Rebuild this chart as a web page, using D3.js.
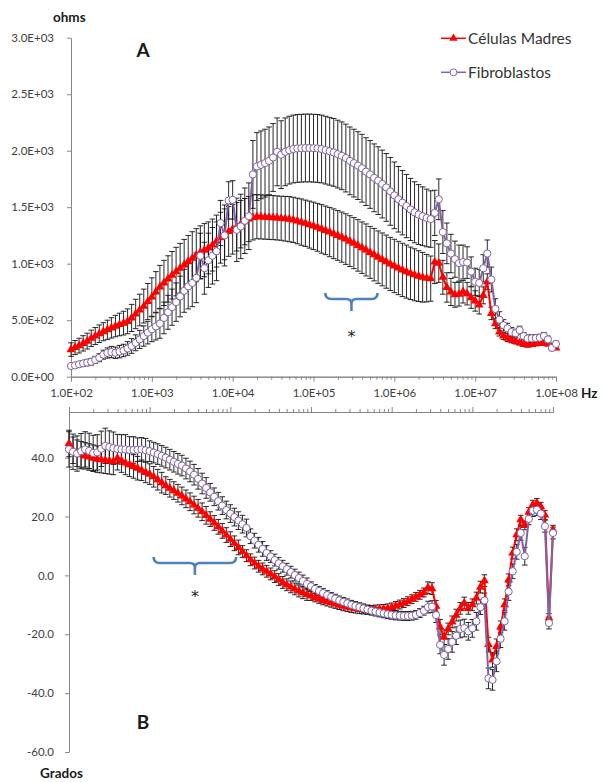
<!DOCTYPE html>
<html>
<head>
<meta charset="utf-8">
<script src="https://cdn.jsdelivr.net/npm/d3@7"></script>
<style>
  body { margin: 0; background: #fff; }
  text { font-family: Lato, "Open Sans", sans-serif; }
</style>
</head>
<body>
<script>
var width = 603, height = 782;

// sweep grid of the analyser: 20 points per decade, 1e2 .. 1e8 Hz
var sweepStart = 2, sweepStep = 0.05, sweepCount = 121;
var freqs = d3.range(sweepCount).map(function (i) { return Math.pow(10, sweepStart + i * sweepStep); });

var seriesNames = ['Células Madres', 'Fibroblastos'];

// panel A: impedance modulus (ohms)
var madresOhms = [
  240,258,275,295,315,340,360,380,398,415,
  432,448,462,474,490,520,555,590,625,665,
  705,750,795,830,865,898,930,960,990,1020,
  1048,1075,1100,1120,1140,1165,1200,1230,1260,1285,
  1305,1327,1350,1372,1395,1410,1416,1414,1412,1410,
  1408,1405,1402,1398,1394,1388,1378,1368,1358,1346,
  1335,1322,1308,1295,1280,1265,1250,1235,1218,1200,
  1182,1162,1142,1122,1100,1080,1058,1038,1018,998,
  980,962,945,930,915,902,890,880,872,868,
  1015,1005,880,790,750,725,730,752,735,700,
  670,635,720,840,560,470,395,360,340,325,
  312,300,288,280,285,292,296,300,290,265,
  255];
var madresOhmsErr = [
  60,62,65,68,70,72,75,78,80,85,
  90,95,100,105,110,120,130,140,150,160,
  170,180,190,200,205,210,215,220,225,230,
  235,235,235,235,230,230,230,225,225,220,
  220,215,210,205,200,200,195,195,195,195,
  195,195,195,198,200,200,202,205,205,208,
  210,212,215,215,218,220,220,222,224,225,
  226,228,228,230,230,232,232,234,235,235,
  236,236,236,235,232,230,225,220,210,200,
  190,170,150,130,120,110,105,100,100,95,
  90,80,75,70,55,45,35,30,28,25,
  22,20,20,18,18,18,18,18,18,15,
  15];
var fibroOhms = [
  95,100,110,118,125,132,148,168,195,210,
  218,212,222,232,250,272,300,330,360,390,
  420,445,470,520,570,615,660,710,760,800,
  830,875,1070,960,1030,1070,1110,1360,1250,1560,
  1565,1300,1330,1380,1420,1790,1860,1875,1890,1910,
  1940,1990,1965,1990,2005,2015,2020,2022,2024,2024,
  2022,2020,2015,2005,1995,1985,1970,1955,1935,1910,
  1890,1868,1845,1815,1790,1760,1735,1705,1675,1640,
  1605,1570,1540,1510,1480,1455,1435,1420,1405,1395,
  1450,1570,1280,1180,1090,1040,1005,1015,1010,930,
  840,830,960,1090,860,600,505,455,428,395,
  385,412,360,338,340,342,345,360,330,255,
  290];
var fibroOhmsErr = [
  20,20,22,25,28,30,32,35,40,45,
  50,50,55,55,60,65,70,80,90,100,
  110,120,130,140,150,160,170,180,190,200,
  210,220,200,230,240,250,260,200,270,165,
  170,280,285,290,295,300,300,300,300,300,
  300,300,300,300,300,300,300,300,300,300,
  300,300,300,300,300,300,300,300,300,300,
  300,300,300,300,300,300,300,300,300,300,
  295,290,285,280,275,270,265,260,255,250,
  200,180,190,180,170,160,160,150,140,130,
  120,120,120,120,110,90,70,50,45,40,
  35,35,30,30,30,30,30,30,30,25,
  25];

// panel B: phase (degrees)
var madresDeg = [
  44.8,42.5,41.5,41.0,40.6,40.2,39.8,39.5,39.3,39.1,
  38.9,38.7,39.8,39.0,38.2,37.6,37.0,36.4,35.7,35.0,
  34.4,33.5,32.5,31.5,30.5,29.6,28.8,27.9,27.0,26.0,
  25.0,23.9,22.8,21.6,20.4,19.1,17.8,16.5,15.1,13.7,
  12.3,10.9,9.5,8.1,6.7,5.3,4.2,3.1,2.2,1.4,
  0.5,-0.4,-1.4,-2.4,-3.2,-3.9,-4.6,-5.3,-5.9,-6.5,
  -7.0,-7.5,-8.0,-8.5,-8.9,-9.3,-9.7,-10.1,-10.5,-10.8,
  -11.1,-11.3,-11.5,-11.6,-11.7,-11.7,-11.6,-11.5,-11.4,-11.2,
  -10.9,-10.4,-9.9,-9.4,-8.8,-8.1,-7.3,-6.6,-5.8,-4.2,
  -4.5,-10.5,-17.5,-21.0,-18.2,-15.8,-13.5,-11.2,-9.4,-11.2,
  -10.0,-7.7,-4.0,-1.8,-23.5,-28.7,-24.1,-17.5,-10.0,-1.5,
  7.6,13.8,18.9,17.0,21.5,24.0,24.6,23.3,20.5,-14.5,
  15.5];
var madresDegErr = [
  4.5,4.5,4.5,4.5,4.5,4.5,4.5,4.5,4.5,4.5,
  4.5,4.5,4,4,4,4,4,4,3.5,3.5,
  3.5,3.5,3.5,3.5,3,3,3,3,3,3,
  3,3,3,3,3,2.5,2.5,2.5,2.5,2.5,
  2.5,2.5,2.5,2,2,2,2,2,2,2,
  2,2,2,2,2,2,2,2,2,2,
  1.5,1.5,1.5,1.5,1.5,1.5,1.5,1.5,1.5,1.5,
  1.5,1.5,1.5,1.5,1.5,1.5,1.5,1.5,1.5,1.5,
  1.5,1.5,1.5,1.5,1.5,1.5,1.5,1.5,1.5,2,
  2,2,2.5,2.5,2,2,2,2,2,2,
  2,2,2,2,2.5,2.5,2.5,2,2,2,
  2,2,1.5,1.5,1.5,1.5,1.5,1.5,1.5,1.5,
  1.5];
var fibroDeg = [
  42.8,42.0,41.4,42.2,42.8,42.3,41.6,41.8,43.0,44.0,
  43.6,43.2,42.9,42.8,42.8,42.6,42.6,42.7,42.8,42.5,
  42.2,41.7,41.2,40.6,40.0,39.3,38.6,37.9,37.3,36.3,
  35.3,34.2,32.8,31.2,29.7,28.2,26.7,25.2,23.7,22.2,
  21.0,19.8,18.6,17.4,16.1,13.3,11.8,10.4,9.0,7.6,
  6.4,5.2,4.1,3.1,2.1,1.1,0.1,-0.9,-1.9,-2.9,
  -3.7,-4.6,-5.3,-6.0,-6.7,-7.3,-7.9,-8.5,-9.0,-9.5,
  -10.0,-10.4,-10.8,-11.2,-11.6,-12.0,-12.3,-12.6,-12.9,-13.2,
  -13.4,-13.6,-13.7,-13.8,-13.8,-13.7,-13.4,-12.8,-12.0,-10.8,
  -10.6,-13.5,-23.6,-27.0,-25.0,-22.6,-20.5,-18.2,-17.9,-19.0,
  -18.0,-15.6,-10.8,-8.5,-35.0,-35.5,-29.2,-21.5,-15.6,-5.5,
  1.4,8.0,14.4,6.5,19.2,22.0,22.3,21.0,16.7,-16.2,
  14.4];
var fibroDegErr = [
  6,6,6,6,6,6,6,6,6,6,
  5.5,5.5,5,5,5,4.5,4.5,4,4,4,
  3.5,3.5,3.5,3.5,3.5,3.5,3.5,3.5,3.5,3.5,
  3.5,3.5,3.5,3.5,3.5,3,3,3,3,3,
  3,3,3,3,3,2.5,2.5,2.5,2.5,2.5,
  2,2,2,2,2,2,2,2,2,2,
  1.5,1.5,1.5,1.5,1.5,1.5,1.5,1.5,1.5,1.5,
  1.5,1.5,1.5,1.5,1.5,1.5,1.5,1.5,1.5,1.5,
  1.5,1.5,1.5,1.5,1.5,1.5,1.5,1.5,1.5,2,
  2,2.5,3,3.5,3.5,3.5,3,3,3,3,
  3,3,2.5,2.5,3.5,3.5,3.5,3,3,3,
  2.5,2.5,2.5,3,2,2,2,2,2,2,
  2];

var freqTicks = [1e2, 1e3, 1e4, 1e5, 1e6, 1e7, 1e8];
var ohmsTicks = [0, 500, 1000, 1500, 2000, 2500, 3000];
var degTicks = [-60, -40, -20, 0, 20, 40];

// frequency spans of the significance brackets
var bracketA = [1.4e5, 6.2e5];
var bracketB = [1.12e3, 1.18e4];

var red = '#ff0000', purple = '#8064a2', axisGray = '#868686', bracketBlue = '#4f81bd';

var svg = d3.select('body').append('svg')
    .attr('width', width)
    .attr('height', height);

var xA = d3.scaleLog().domain([1e2, 1e8]).range([71, 556]);
var yA = d3.scaleLinear().domain([0, 3000]).range([376.7, 37.7]);
var xB = d3.scaleLog().domain([1e2, 1e8]).range([69, 553]);
var yB = d3.scaleLinear().domain([-60, 55.5]).range([752, 412]);

var minorTicks = xA.ticks().filter(function (d) {
  return freqTicks.indexOf(d) < 0;
});

var sci = function (v) {
  if (v === 0) return '0.0E+00';
  var e = Math.floor(Math.log10(Math.abs(v)) + 1e-9);
  var m = v / Math.pow(10, e);
  return m.toFixed(1) + 'E+' + (e < 10 ? '0' + e : e);
};

var styleAxis = function (g) {
  g.attr('font-size', 11.5);
  g.select('.domain').attr('stroke', axisGray);
  g.selectAll('.tick line').attr('stroke', axisGray);
  g.selectAll('.tick text').attr('fill', '#404040');
};

// ---- axes, panel A
svg.append('g')
    .attr('transform', 'translate(0,' + yA(0) + ')')
    .call(d3.axisBottom(xA).tickValues(minorTicks).tickSize(3).tickFormat('').tickSizeOuter(0))
    .call(styleAxis);
svg.append('g')
    .attr('transform', 'translate(0,' + yA(0) + ')')
    .call(d3.axisBottom(xA).tickValues(freqTicks).tickSize(5).tickPadding(7).tickFormat(sci).tickSizeOuter(0))
    .call(styleAxis);
svg.append('g')
    .attr('transform', 'translate(' + xA(1e2) + ',0)')
    .call(d3.axisLeft(yA).tickValues(ohmsTicks).tickSize(4).tickPadding(13).tickFormat(sci).tickSizeOuter(0))
    .call(styleAxis);

// ---- axes, panel B (x axis sits at the top)
svg.append('g')
    .attr('transform', 'translate(0,' + yB.range()[1] + ')')
    .call(d3.axisTop(xB).tickValues(minorTicks).tickSize(3).tickFormat('').tickSizeOuter(0))
    .call(styleAxis);
svg.append('g')
    .attr('transform', 'translate(0,' + yB.range()[1] + ')')
    .call(d3.axisTop(xB).tickValues(freqTicks).tickSize(5).tickFormat('').tickSizeOuter(0))
    .call(styleAxis);
svg.append('g')
    .attr('transform', 'translate(' + xB(1e2) + ',0)')
    .call(d3.axisLeft(yB).tickValues(degTicks).tickSize(4).tickPadding(11)
      .tickFormat(function (v) { return v.toFixed(1); }).tickSizeOuter(0))
    .call(styleAxis);

// ---- series
var errorBars = function (x, y, vals, errs) {
  var g = svg.append('g').attr('stroke', '#111').attr('stroke-width', 0.9);
  var pts = freqs.map(function (f, i) { return {f: f, v: vals[i], e: errs[i]}; });
  g.selectAll('.eb').data(pts).enter().append('path')
      .attr('d', function (d) {
        var cx = x(d.f), lo = y(d.v - d.e), hi = y(d.v + d.e);
        return 'M' + cx + ',' + lo + 'V' + hi +
               'M' + (cx - 2.8) + ',' + hi + 'H' + (cx + 2.8) +
               'M' + (cx - 2.8) + ',' + lo + 'H' + (cx + 2.8);
      })
      .attr('fill', 'none');
};

var series = function (x, y, vals, color, marker) {
  var pts = freqs.map(function (f, i) { return {f: f, v: vals[i]}; });
  var line = d3.line().x(function (d) { return x(d.f); }).y(function (d) { return y(d.v); });
  svg.append('path').datum(pts)
      .attr('d', line)
      .attr('fill', 'none')
      .attr('stroke', color)
      .attr('stroke-width', 2);
  var g = svg.append('g');
  if (marker === 'triangle') {
    g.selectAll('path').data(pts).enter().append('path')
        .attr('d', d3.symbol(d3.symbolTriangle, 34))
        .attr('transform', function (d) { return 'translate(' + x(d.f) + ',' + y(d.v) + ')'; })
        .attr('fill', color);
  } else {
    g.selectAll('circle').data(pts).enter().append('circle')
        .attr('cx', function (d) { return x(d.f); })
        .attr('cy', function (d) { return y(d.v); })
        .attr('r', 3.6)
        .attr('fill', '#fff')
        .attr('stroke', color)
        .attr('stroke-width', 1);
  }
};

errorBars(xA, yA, madresOhms, madresOhmsErr);
errorBars(xA, yA, fibroOhms, fibroOhmsErr);
series(xA, yA, madresOhms, red, 'triangle');
series(xA, yA, fibroOhms, purple, 'circle');

errorBars(xB, yB, madresDeg, madresDegErr);
errorBars(xB, yB, fibroDeg, fibroDegErr);
series(xB, yB, madresDeg, red, 'triangle');
series(xB, yB, fibroDeg, purple, 'circle');

// ---- significance brackets
var brace = function (x0, x1, yTop, asteriskY) {
  var mid = (x0 + x1) / 2, yH = yTop + 6;
  svg.append('path')
      .attr('d', 'M' + x0 + ',' + yTop + 'Q' + x0 + ',' + yH + ' ' + (x0 + 6) + ',' + yH +
                 'H' + (mid - 5) + 'Q' + mid + ',' + yH + ' ' + mid + ',' + (yH + 5) + 'V' + (yH + 12) +
                 'M' + mid + ',' + (yH + 5) + 'Q' + mid + ',' + yH + ' ' + (mid + 5) + ',' + yH +
                 'H' + (x1 - 6) + 'Q' + x1 + ',' + yH + ' ' + x1 + ',' + yTop)
      .attr('fill', 'none')
      .attr('stroke', bracketBlue)
      .attr('stroke-width', 2.6);
  svg.append('text')
      .attr('x', mid).attr('y', asteriskY)
      .attr('text-anchor', 'middle')
      .style('font-family', '"DejaVu Sans", sans-serif')
      .attr('font-size', 16)
      .attr('fill', '#222')
      .text('*');
};
brace(xA(bracketA[0]), xA(bracketA[1]), 293, 342);
brace(xB(bracketB[0]), xB(bracketB[1]), 557, 602);

// ---- legend
var legend = svg.append('g');
seriesNames.forEach(function (name, i) {
  var ly = 38.3 + i * 34, color = i === 0 ? red : purple;
  legend.append('line')
      .attr('x1', 441).attr('x2', 466).attr('y1', ly).attr('y2', ly)
      .attr('stroke', color).attr('stroke-width', 1.5);
  if (i === 0) {
    legend.append('path')
        .attr('d', d3.symbol(d3.symbolTriangle, 30))
        .attr('transform', 'translate(453.5,' + ly + ')')
        .attr('fill', color);
  } else {
    legend.append('circle')
        .attr('cx', 453.5).attr('cy', ly).attr('r', 3.4)
        .attr('fill', '#fff').attr('stroke', color);
  }
  legend.append('text')
      .attr('x', 468).attr('y', ly + 5.5)
      .attr('font-size', 15.5)
      .attr('fill', '#333')
      .text(name);
});

// ---- titles
var label = function (txt, x, y, size, anchor) {
  svg.append('text')
      .attr('x', x).attr('y', y)
      .attr('font-size', size)
      .attr('font-weight', 'bold')
      .attr('text-anchor', anchor || 'start')
      .attr('fill', '#1a1a1a')
      .text(txt);
};
label('ohms', 53, 22, 13.5);
label('Hz', 581, 398, 13.5);
label('Grados', 40, 778, 13.5);
label('A', 143, 57, 19, 'middle');
label('B', 143, 729, 19, 'middle');
</script>
</body>
</html>
